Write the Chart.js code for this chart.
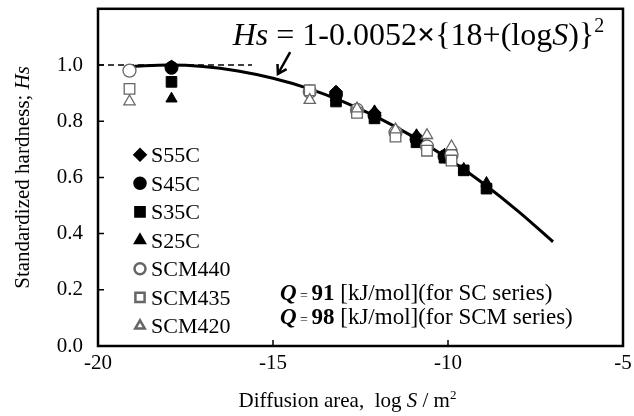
<!DOCTYPE html>
<html>
<head>
<title>Standardized hardness vs diffusion area</title>
<script src="https://cdn.jsdelivr.net/npm/chart.js"></script>
<style>
  body { margin: 0; background: #fff; }
</style>
</head>
<body>
<canvas id="myChart" width="634" height="416"></canvas>
<script>
// axis ticks
var xTickValues = [-20, -15, -10, -5];
var xTickLabels = ['-20', '-15', '-10', '-5'];
var yTickValues = [0, 0.2, 0.4, 0.6, 0.8, 1.0];
var yTickLabels = ['0.0', '0.2', '0.4', '0.6', '0.8', '1.0'];

// fitted curve  Hs = 1-0.0052*{18+logS}^2
var fitLogS = [-19, -18, -17, -16, -15, -14, -13, -12, -11, -10, -9, -8, -7];
var fitHs = [0.995, 1.000, 0.995, 0.979, 0.953, 0.917, 0.870, 0.813, 0.745, 0.667, 0.579, 0.480, 0.371];

// dashed reference line at Hs = 1
var refLogS = [-20, -15.6];
var refHs = [1.0, 1.0];

// measured points
var s55cLogS = [-17.9, -13.2, -12.1, -10.9, -10.1];
var s55cHs = [0.995, 0.905, 0.83, 0.745, 0.68];
var s45cLogS = [-17.9, -13.2, -12.1, -10.9, -10.1];
var s45cHs = [0.99, 0.895, 0.82, 0.735, 0.675];
var s35cLogS = [-17.9, -13.2, -12.1, -10.9, -10.1, -9.55, -8.9];
var s35cHs = [0.94, 0.87, 0.81, 0.725, 0.67, 0.625, 0.56];
var s25cLogS = [-17.9, -13.2, -12.1, -10.9, -10.1, -9.55, -8.9];
var s25cHs = [0.88, 0.885, 0.835, 0.75, 0.68, 0.63, 0.58];
var scm440LogS = [-19.1, -13.95, -12.6, -11.5, -10.6, -9.9];
var scm440Hs = [0.98, 0.905, 0.84, 0.76, 0.71, 0.68];
var scm435LogS = [-19.1, -13.95, -12.6, -11.5, -10.6, -9.9];
var scm435Hs = [0.915, 0.91, 0.83, 0.745, 0.695, 0.66];
var scm420LogS = [-19.1, -13.95, -12.6, -11.5, -10.6, -9.9];
var scm420Hs = [0.87, 0.875, 0.845, 0.77, 0.75, 0.71];

var serif = "'Liberation Serif', 'Times New Roman', serif";

function pts(xs, ys) {
    return xs.map(function(x, i) { return { x: x, y: ys[i] }; });
}

function marker(label, xs, ys, style, filled, order) {
    return {
        label: label,
        data: pts(xs, ys),
        showLine: false,
        pointStyle: style,
        pointRadius: style === 'rect' ? 7.5 : 6.5,
        pointBackgroundColor: filled ? '#000' : '#fff',
        pointBorderColor: filled ? '#000' : '#666',
        pointBorderWidth: filled ? 1 : 1.3,
        order: order
    };
}

var series = [
    marker('S55C', s55cLogS, s55cHs, 'rectRot', true, 7),
    marker('S45C', s45cLogS, s45cHs, 'circle', true, 6),
    marker('S35C', s35cLogS, s35cHs, 'rect', true, 5),
    marker('S25C', s25cLogS, s25cHs, 'triangle', true, 4),
    marker('SCM440', scm440LogS, scm440Hs, 'circle', false, 3),
    marker('SCM435', scm435LogS, scm435Hs, 'rect', false, 2),
    marker('SCM420', scm420LogS, scm420Hs, 'triangle', false, 1)
];

var datasets = series.concat([
    {
        label: 'fit',
        data: pts(fitLogS, fitHs),
        showLine: true,
        borderColor: '#000',
        borderWidth: 3,
        pointRadius: 0,
        cubicInterpolationMode: 'monotone',
        order: 20
    },
    {
        label: 'ref',
        data: pts(refLogS, refHs),
        showLine: true,
        borderColor: '#000',
        borderWidth: 1.5,
        borderDash: [6, 4],
        pointRadius: 0,
        order: 21
    }
]);

function drawSpans(ctx, spans, x, y) {
    spans.forEach(function(s) {
        ctx.font = s.font;
        ctx.fillText(s.t, x, y + (s.dy || 0));
        x += ctx.measureText(s.t).width;
    });
    return x;
}
function spansWidth(ctx, spans) {
    var w = 0;
    spans.forEach(function(s) { ctx.font = s.font; w += ctx.measureText(s.t).width; });
    return w;
}

var framePlugin = {
    id: 'frame',
    afterDraw: function(chart) {
        var ctx = chart.ctx, a = chart.chartArea;
        var xs = chart.scales.x, ys = chart.scales.y;
        ctx.save();
        ctx.strokeStyle = '#000';
        ctx.lineWidth = 1.5;
        ctx.beginPath();
        xs.ticks.forEach(function(t) {
            var px = xs.getPixelForValue(t.value);
            ctx.moveTo(px, a.bottom);
            ctx.lineTo(px, a.bottom - 6);
        });
        ys.ticks.forEach(function(t) {
            var py = ys.getPixelForValue(t.value);
            ctx.moveTo(a.left, py);
            ctx.lineTo(a.left + 6, py);
        });
        ctx.stroke();
        ctx.lineWidth = 2.5;
        ctx.strokeRect(a.left, a.top, a.right - a.left, a.bottom - a.top);

        ctx.fillStyle = '#000';
        ctx.textBaseline = 'alphabetic';
        ctx.textAlign = 'left';

        // legend
        var lx = a.left + 42, ly = a.top + 146;
        series.forEach(function(d, i) {
            var y = ly + i * 28.5;
            ctx.fillStyle = d.pointBackgroundColor;
            ctx.strokeStyle = d.pointBorderColor;
            Chart.helpers.drawPoint(ctx, {
                pointStyle: d.pointStyle,
                radius: d.pointStyle === 'rect' ? 6.5 : 5.5,
                rotation: 0,
                borderWidth: d.pointBorderWidth
            }, lx, y);
            ctx.fillStyle = '#000';
            ctx.font = '22px ' + serif;
            ctx.fillText(d.label, lx + 11, y + 7.5);
        });

        // equation
        var big = 32;
        var ex = xs.getPixelForValue(-16.15), ey = ys.getPixelForValue(1.07);
        drawSpans(ctx, [
            { t: 'Hs', font: 'italic ' + big + 'px ' + serif },
            { t: ' = 1-0.0052', font: big + 'px ' + serif },
            { t: '\u00d7', font: 'bold ' + big + 'px ' + serif },
            { t: '{18+(log', font: big + 'px ' + serif },
            { t: 'S', font: 'italic ' + big + 'px ' + serif },
            { t: ')}', font: big + 'px ' + serif },
            { t: '2', font: Math.round(big * 0.62) + 'px ' + serif, dy: -13 }
        ], ex, ey);

        // arrow
        var tx = xs.getPixelForValue(-14.51), ty = ys.getPixelForValue(1.046);
        var hx = xs.getPixelForValue(-14.86), hy = ys.getPixelForValue(0.968);
        var ang = Math.atan2(hy - ty, hx - tx);
        ctx.strokeStyle = '#000';
        ctx.lineWidth = 2.5;
        ctx.beginPath();
        ctx.moveTo(tx, ty);
        ctx.lineTo(hx, hy);
        ctx.moveTo(hx - 10 * Math.cos(ang - 0.55), hy - 10 * Math.sin(ang - 0.55));
        ctx.lineTo(hx, hy);
        ctx.lineTo(hx - 10 * Math.cos(ang + 0.55), hy - 10 * Math.sin(ang + 0.55));
        ctx.stroke();

        // activation energies
        var qx = xs.getPixelForValue(-14.8);
        var q1 = ys.getPixelForValue(0.165), q2 = ys.getPixelForValue(0.077);
        var f = 23;
        drawSpans(ctx, [
            { t: 'Q', font: 'italic bold ' + f + 'px ' + serif },
            { t: ' = ', font: '14px ' + serif },
            { t: '91', font: 'bold ' + f + 'px ' + serif },
            { t: ' [kJ/mol](for SC series)', font: f + 'px ' + serif }
        ], qx, q1);
        drawSpans(ctx, [
            { t: 'Q', font: 'italic bold ' + f + 'px ' + serif },
            { t: ' = ', font: '14px ' + serif },
            { t: '98', font: 'bold ' + f + 'px ' + serif },
            { t: ' [kJ/mol](for SCM series)', font: f + 'px ' + serif }
        ], qx, q2);

        // axis titles
        var yt = [
            { t: 'Standardized hardness; ', font: '21px ' + serif },
            { t: 'Hs', font: 'italic 21px ' + serif }
        ];
        ctx.save();
        ctx.translate(29, (a.top + a.bottom) / 2);
        ctx.rotate(-Math.PI / 2);
        drawSpans(ctx, yt, -spansWidth(ctx, yt) / 2, 0);
        ctx.restore();

        var xt = [
            { t: 'Diffusion area,  log ', font: '21px ' + serif },
            { t: 'S', font: 'italic 21px ' + serif },
            { t: ' / m', font: '21px ' + serif },
            { t: '2', font: '13px ' + serif, dy: -8 }
        ];
        drawSpans(ctx, xt, (a.left + a.right) / 2 - 13 - spansWidth(ctx, xt) / 2, 407);
        ctx.restore();
    }
};

var ctx = document.getElementById('myChart').getContext('2d');
var chart = new Chart(ctx, {
    type: 'scatter',
    data: { datasets: datasets },
    plugins: [framePlugin],
    options: {
        responsive: false,
        animation: false,
        events: [],
        layout: { padding: { top: 7, right: 11, left: 0, bottom: 0 } },
        plugins: { legend: { display: false }, tooltip: { enabled: false } },
        scales: {
            x: {
                type: 'linear',
                min: -20, max: -5,
                afterBuildTicks: function(s) { s.ticks = xTickValues.map(function(v) { return { value: v }; }); },
                afterFit: function(s) { s.height = 70; s.paddingLeft = 0; s.paddingRight = 0; },
                grid: { display: false, drawTicks: false },
                border: { display: false },
                ticks: {
                    padding: 5,
                    color: '#000',
                    font: { family: serif, size: 21 },
                    callback: function(v) { return xTickLabels[xTickValues.indexOf(v)]; }
                }
            },
            y: {
                min: 0, max: 1.2,
                afterBuildTicks: function(s) { s.ticks = yTickValues.map(function(v) { return { value: v }; }); },
                afterFit: function(s) { s.width = 98; s.paddingTop = 0; s.paddingBottom = 0; },
                grid: { display: false, drawTicks: false },
                border: { display: false },
                ticks: {
                    padding: 15,
                    color: '#000',
                    font: { family: serif, size: 21 },
                    callback: function(v) {
                        var i = yTickValues.findIndex(function(t) { return Math.abs(t - v) < 1e-6; });
                        return i < 0 ? '' : yTickLabels[i];
                    }
                }
            }
        }
    }
});
</script>
</body>
</html>
